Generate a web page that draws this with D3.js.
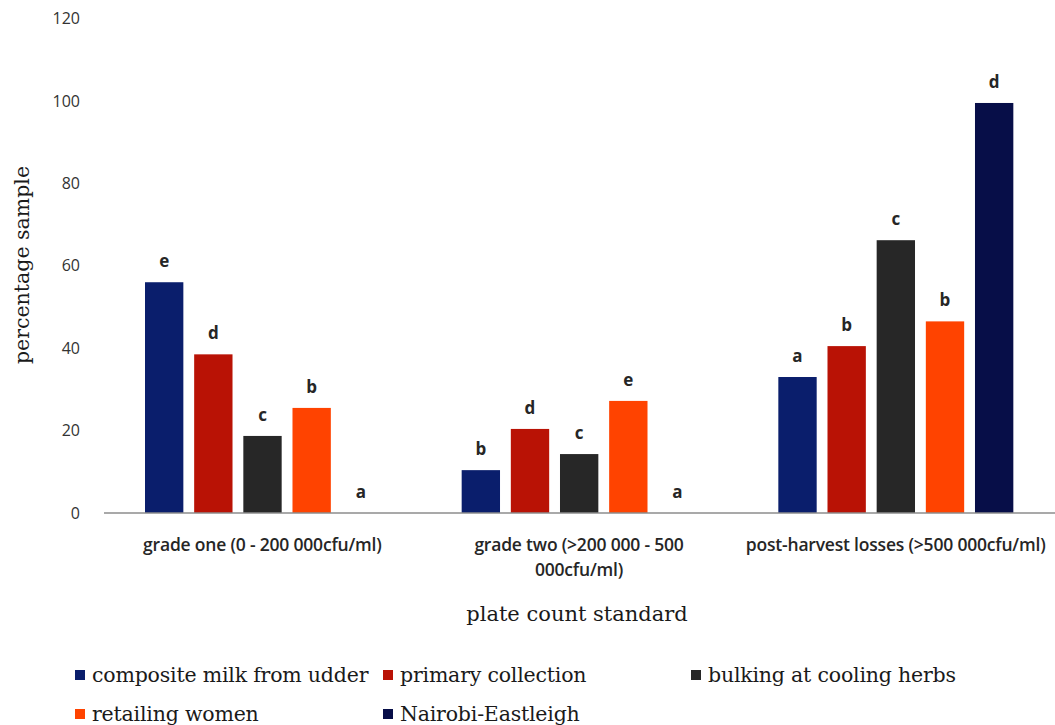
<!DOCTYPE html>
<html>
<head>
<meta charset="utf-8">
<script src="https://cdn.jsdelivr.net/npm/d3@7"></script>
<style>
  body { margin: 0; background: #fff; }
  svg { display: block; }
</style>
</head>
<body>
<div id="chart"></div>
<script>
// categories and series
const categories = ["grade one (0 - 200 000cfu/ml)", "grade two (>200 000 - 500 000cfu/ml)", "post-harvest losses (>500 000cfu/ml)"];
const categoryLines = [["grade one (0 - 200 000cfu/ml)"], ["grade two (>200 000 - 500", "000cfu/ml)"], ["post-harvest losses (>500 000cfu/ml)"]];
const seriesNames = ["composite milk from udder", "primary collection", "bulking at cooling herbs", "retailing women", "Nairobi-Eastleigh"];
const seriesColors = ["#0a1e6c", "#b91205", "#272727", "#ff4300", "#070e48"];
const compositeMilk = [56, 10.4, 33];
const primaryCollection = [38.5, 20.4, 40.5];
const bulkingCooling = [18.7, 14.3, 66.2];
const retailingWomen = [25.5, 27.2, 46.5];
const nairobiEastleigh = [0, 0, 99.5];
const compositeLetters = ["e", "b", "a"];
const primaryLetters = ["d", "d", "b"];
const bulkingLetters = ["c", "c", "c"];
const retailingLetters = ["b", "e", "b"];
const nairobiLetters = ["a", "a", "d"];
const yTicks = [0, 20, 40, 60, 80, 100, 120];

const seriesValues = [compositeMilk, primaryCollection, bulkingCooling, retailingWomen, nairobiEastleigh];
const seriesLetters = [compositeLetters, primaryLetters, bulkingLetters, retailingLetters, nairobiLetters];

const width = 1055, height = 725;
const svg = d3.select("#chart").append("svg")
              .attr("width", width)
              .attr("height", height);

const x0 = d3.scaleBand().domain(d3.range(categories.length)).range([104, 1054]);
const x1 = d3.scaleBand().domain(d3.range(seriesNames.length)).range([41, 276]).paddingInner(0.22);
const y = d3.scaleLinear().domain([0, 120]).range([513, 18.5]);

// y tick labels (no gridlines, no axis line)
svg.append("g")
   .selectAll("text")
   .data(yTicks)
   .enter().append("text")
   .attr("x", 80)
   .attr("y", d => y(d))
   .attr("dy", "0.35em")
   .attr("text-anchor", "end")
   .attr("font-family", "Open Sans, sans-serif")
   .attr("font-size", 16)
   .attr("fill", "#333")
   .text(d => d);

// bars
const bars = [];
categories.forEach((c, ci) => {
  seriesValues.forEach((vals, si) => {
    bars.push({ ci, si, value: vals[ci], letter: seriesLetters[si][ci] });
  });
});

svg.append("g")
   .selectAll("rect")
   .data(bars)
   .enter().append("rect")
   .attr("x", d => x0(d.ci) + x1(d.si))
   .attr("y", d => y(d.value))
   .attr("width", x1.bandwidth())
   .attr("height", d => y(0) - y(d.value))
   .attr("fill", d => seriesColors[d.si]);

svg.append("g")
   .selectAll("text")
   .data(bars)
   .enter().append("text")
   .attr("x", d => x0(d.ci) + x1(d.si) + x1.bandwidth() / 2)
   .attr("y", d => y(d.value) - 15)
   .attr("text-anchor", "middle")
   .attr("font-family", "Open Sans, sans-serif")
   .attr("font-weight", "bold")
   .attr("font-size", 17)
   .attr("fill", "#262626")
   .text(d => d.letter);

// x axis line
svg.append("line")
   .attr("x1", 104).attr("x2", 1055)
   .attr("y1", y(0)).attr("y2", y(0))
   .attr("stroke", "#8c8c8c")
   .attr("stroke-width", 1.5);

// category labels
const catG = svg.append("g")
   .selectAll("text")
   .data(categoryLines)
   .enter().append("text")
   .attr("text-anchor", "middle")
   .attr("font-family", "Open Sans, sans-serif")
   .attr("font-weight", 600)
   .attr("font-size", 17.5)
   .attr("letter-spacing", -0.2)
   .attr("fill", "#262626");
catG.selectAll("tspan")
    .data((d, i) => d.map(t => ({ t, i })))
    .enter().append("tspan")
    .attr("x", d => x0(d.i) + x0.bandwidth() / 2)
    .attr("y", (d, j) => 551 + j * 25)
    .text(d => d.t);

// axis titles
svg.append("text")
   .attr("x", 577)
   .attr("y", 621)
   .attr("text-anchor", "middle")
   .attr("font-family", "DejaVu Serif, serif")
   .attr("font-size", 21)
   .attr("fill", "#1a1a1a")
   .text("plate count standard");

svg.append("text")
   .attr("transform", "translate(29,265) rotate(-90)")
   .attr("text-anchor", "middle")
   .attr("font-family", "DejaVu Serif, serif")
   .attr("font-size", 20.5)
   .attr("fill", "#1a1a1a")
   .text("percentage sample");

// legend
const legendPos = [[75, 682], [383, 682], [691, 682], [75, 721], [383, 721]];
const legend = svg.append("g")
   .selectAll("g")
   .data(seriesNames)
   .enter().append("g")
   .attr("transform", (d, i) => `translate(${legendPos[i][0]},${legendPos[i][1]})`);
legend.append("rect")
   .attr("x", 0).attr("y", -12)
   .attr("width", 10).attr("height", 10)
   .attr("fill", (d, i) => seriesColors[i]);
legend.append("text")
   .attr("x", 17)
   .attr("y", 0)
   .attr("font-family", "DejaVu Serif, serif")
   .attr("font-size", 20.5)
   .attr("letter-spacing", -0.2)
   .attr("fill", "#1a1a1a")
   .text(d => d);
</script>
</body>
</html>
